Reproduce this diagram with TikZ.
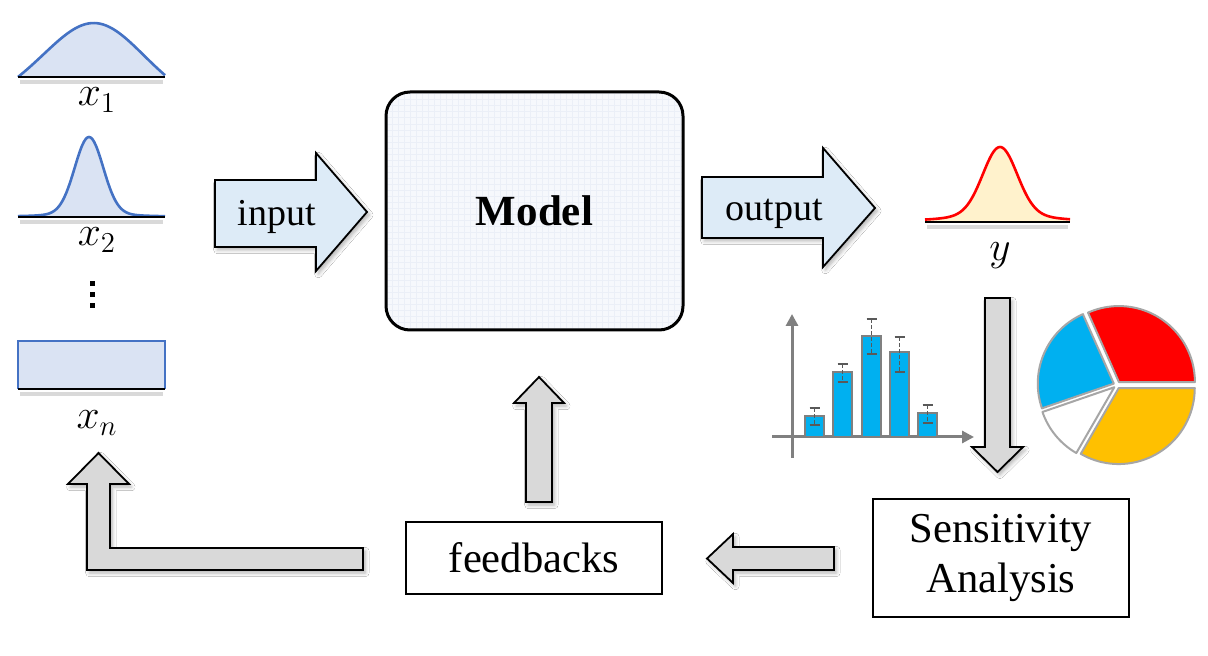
\documentclass[tikz,border=0pt]{standalone}
\usepackage{fontspec}
\setmainfont{Liberation Serif}
\usetikzlibrary{positioning,arrows.meta,shadows.blur}
\definecolor{distblue}{HTML}{4472C4}
\definecolor{distfill}{HTML}{DAE3F3}
\definecolor{arrowblue}{HTML}{DDEBF7}
\definecolor{arrowgray}{HTML}{D9D9D9}
\definecolor{barblue}{HTML}{00B0F0}
\definecolor{pieorange}{HTML}{FFC000}
\definecolor{outfill}{HTML}{FFF2CC}
\definecolor{modelfill}{HTML}{F6F8FC}
\definecolor{modelgrid}{HTML}{EBEFF7}

\begin{document}
\begin{tikzpicture}[x=0.5pt,y=-0.5pt,
% Block arrow styles
bluearrow/.style={draw=black,line width=0.9pt,fill=arrowblue,line join=miter,
	blur shadow={shadow xshift=1.2pt,shadow yshift=-1.5pt,
	shadow opacity=30,shadow blur steps=6}},
grayarrow/.style={bluearrow,fill=arrowgray},
% Distribution styles
distline/.style={draw=distblue,line width=1.3pt},
basestroke/.style={black,line width=1.2pt},
baseshadow/.style={black!15,line width=2pt},
varlabel/.style={font=\fontsize{21}{24}\selectfont},
% Box and text styles
modelbox/.style={draw,line width=1.5pt,rounded corners=12pt,fill=modelfill,
	minimum width=148.5pt,minimum height=119pt,
	font=\fontsize{21.5}{24}\selectfont\bfseries,
	path picture={\draw[modelgrid,line width=0.2pt,step=3pt]
		(path picture bounding box.south west) grid
		(path picture bounding box.north east);}},
textbox/.style={draw,line width=1.2pt,align=center,inner sep=0pt,
	font=\fontsize{21.3}{25}\selectfont},
arrowtext/.style={font=\fontsize{19}{21}\selectfont,anchor=base},
% Chart styles
bar/.style={draw=gray,line width=0.8pt,fill=barblue},
errbar/.style={draw=black!65,line width=0.9pt},
axis/.style={draw=gray,line width=1.5pt,-{Triangle[length=6pt,width=6pt]}},
slice/.style={draw=black!35,line width=1pt,line join=round}
]
\fill[white] (0,0) rectangle (1208,656);
\useasboundingbox (0,0) rectangle (1208,656);

%% Input distributions
\draw[baseshadow] (20,82) -- (163,82);
\fill[distfill] (18,77) -- plot[domain=18:165,samples=70,smooth]
	(\x,{77-27*sin((\x-18)/147*180)-27*(exp(-(((\x-95)/55)^2))-0.141)/0.859})
	-- (165,77) -- cycle;
\draw[distline] plot[domain=18:165,samples=70,smooth]
	(\x,{77-27*sin((\x-18)/147*180)-27*(exp(-(((\x-95)/55)^2))-0.141)/0.859});
\draw[basestroke] (18,77) -- (165,77);
\node[varlabel] (lx1) at (97,100) {$x_1$};

\draw[baseshadow] (20,222) -- (163,222);
\fill[distfill] (18,217) -- plot[domain=18:165,samples=90,smooth]
	(\x,{217-74*exp(-(((\x-89)/20)^2))-6/(1+((\x-89)/30)^2)}) -- (165,217) -- cycle;
\draw[distline] plot[domain=18:165,samples=90,smooth]
	(\x,{217-74*exp(-(((\x-89)/20)^2))-6/(1+((\x-89)/30)^2)});
\draw[basestroke] (18,217) -- (165,217);
\node[varlabel] (lx2) at (97,240) {$x_2$};

\foreach \k in {0,1,2}
	\fill (89.5,{281+11*\k}) rectangle ++(5,5);

\draw[baseshadow] (20,394) -- (163,394);
\fill[distfill] (18,341) rectangle (165,389);
\draw[distline] (18,389) -- (18,341) -- (165,341) -- (165,389);
\draw[basestroke] (18,389) -- (165,389);
\node[varlabel] (lxn) at (97,423) {$x_n$};

%% Model and arrows
\draw[bluearrow] (215,180) -- (316,180) -- (316,153) -- (367,212)
	-- (316,271) -- (316,247) -- (215,247) -- cycle;
\node[arrowtext] (input) at (277,226) {input};

\node[modelbox] (model) at (534.5,211) {Model};

\draw[bluearrow] (702,177) -- (823,177) -- (823,148) -- (875,208)
	-- (823,267) -- (823,238) -- (702,238) -- cycle;
\node[arrowtext] (output) at (774,221) {output};

%% Output distribution
\draw[baseshadow] (927,227) -- (1068,227);
\fill[outfill] (925,222) -- plot[domain=925:1070,samples=90,smooth]
	(\x,{222-60*exp(-(((\x-1000)/24)^2))-15/(1+((\x-1000)/33)^2)}) -- (1070,222) -- cycle;
\draw[red,line width=1.3pt] plot[domain=925:1070,samples=90,smooth]
	(\x,{222-60*exp(-(((\x-1000)/24)^2))-15/(1+((\x-1000)/33)^2)});
\draw[basestroke] (925,222) -- (1070,222);
\node[varlabel] (ly) at (1000,256) {$y$};

%% Bar chart
\draw[axis] (792,458) -- (792,314);
\draw[axis] (772,437) -- (974,437);
\foreach \xl/\top/\elo/\ehi in {805/416/408/425,833/372/364/382,
	862/336/319/354,890/352/337/372,918/413/405/423}{
	\draw[bar] (\xl,437) rectangle ({\xl+19},\top);
	\draw[errbar,dash pattern=on 2pt off 1pt] ({\xl+9.5},\elo) -- ({\xl+9.5},\ehi);
	\draw[errbar] ({\xl+4.5},\elo) -- ({\xl+14.5},\elo);
	\draw[errbar] ({\xl+4.5},\ehi) -- ({\xl+14.5},\ehi);
}

%% Pie chart
\begin{scope}[shift={(1117,385)},x=0.5pt,y=0.5pt]
	\draw[slice,fill=red,shift={(57:3.5)}] (0,0) -- (0:76)
		arc[start angle=0,end angle=114,radius=76] -- cycle;
	\draw[slice,fill=barblue,shift={(156.5:3.5)}] (0,0) -- (114:76)
		arc[start angle=114,end angle=199,radius=76] -- cycle;
	\draw[slice,fill=white,shift={(219.5:3.5)}] (0,0) -- (199:76)
		arc[start angle=199,end angle=240,radius=76] -- cycle;
	\draw[slice,fill=pieorange,shift={(300:3.5)}] (0,0) -- (240:76)
		arc[start angle=240,end angle=360,radius=76] -- cycle;
\end{scope}

%% Sensitivity analysis and feedback
\draw[grayarrow] (985,298) -- (1010,298) -- (1010,447) -- (1023,447)
	-- (997.5,472) -- (972,447) -- (985,447) -- cycle;

\node[textbox,minimum width=128pt,minimum height=59pt] (sa) at (1001,558)
	{Sensitivity\\Analysis};
\node[textbox,minimum width=128pt,minimum height=36pt] (fb) at (534,558)
	{feedbacks};

\draw[grayarrow] (834,547) -- (834,570) -- (733,570) -- (733,583)
	-- (707,558.5) -- (733,534) -- (733,547) -- cycle;
\draw[grayarrow] (526,502) -- (552,502) -- (552,403) -- (564,403)
	-- (539,377) -- (514,403) -- (526,403) -- cycle;
\draw[grayarrow] (363,548) -- (363,570) -- (87,570) -- (87,484) -- (68,484)
	-- (98.5,453) -- (129,484) -- (110,484) -- (110,548) -- cycle;

\end{tikzpicture}
\end{document}
